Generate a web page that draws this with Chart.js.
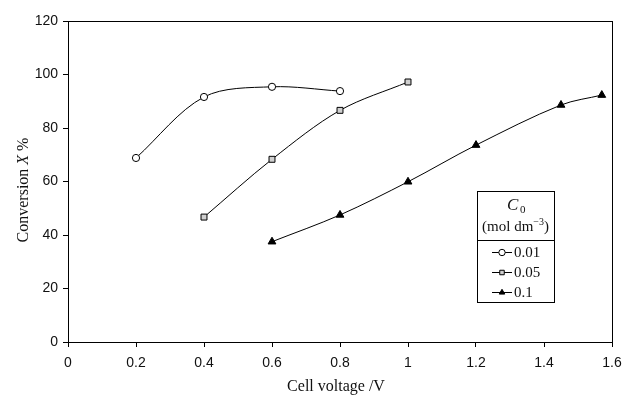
<!DOCTYPE html>
<html>
<head>
<meta charset="utf-8">
<script src="https://cdn.jsdelivr.net/npm/chart.js@4"></script>
<style>
  body { margin: 0; background: #fff; }
  #wrap { width: 625px; height: 396px; }
</style>
</head>
<body>
<div id="wrap"><canvas id="chart" width="625" height="396"></canvas></div>
<script>
// data
var volt01 = [0.2, 0.4, 0.6, 0.8];
var conv01 = [68.8, 91.6, 95.4, 93.8];
var volt05 = [0.4, 0.6, 0.8, 1.0];
var conv05 = [46.7, 68.3, 86.6, 97.2];
var volt1 = [0.6, 0.8, 1.0, 1.2, 1.45, 1.57];
var conv1 = [37.5, 47.5, 59.9, 73.6, 88.6, 92.3];
var seriesLabels = ['0.01', '0.05', '0.1'];
var xTicks = [0, 0.2, 0.4, 0.6, 0.8, 1, 1.2, 1.4, 1.6];
var yTicks = [0, 20, 40, 60, 80, 100, 120];

function pts(xs, ys) {
    return xs.map(function (x, i) { return { x: x, y: ys[i] }; });
}

var serif = '"Liberation Serif", "Times New Roman", serif';

// frame, axis titles and the C0 legend box
var extras = {
    id: 'extras',
    afterDraw: function (chart) {
        var c = chart.ctx, a = chart.chartArea;
        c.save();
        c.strokeStyle = '#000';
        c.lineWidth = 1;
        c.strokeRect(Math.round(a.left) + 0.5, Math.round(a.top) + 0.5, Math.round(a.right - a.left), Math.round(a.bottom - a.top));

        c.fillStyle = '#111';
        c.textBaseline = 'middle';
        // x title
        c.font = '16px ' + serif;
        c.textAlign = 'center';
        c.fillText('Cell voltage /V', 336, 387);

        // y title with italic X
        c.translate(24, 190);
        c.rotate(-Math.PI / 2);
        var p1 = 'Conversion ', p2 = 'X', p3 = ' %';
        c.font = '16px ' + serif;
        var w1 = c.measureText(p1).width, w3 = c.measureText(p3).width;
        c.font = 'italic 16px ' + serif;
        var w2 = c.measureText(p2).width;
        var sx = -(w1 + w2 + w3) / 2;
        c.textAlign = 'left';
        c.font = '16px ' + serif;
        c.fillText(p1, sx, 0);
        c.font = 'italic 16px ' + serif;
        c.fillText(p2, sx + w1, 0);
        c.font = '16px ' + serif;
        c.fillText(p3, sx + w1 + w2, 0);
        c.setTransform(1, 0, 0, 1, 0, 0);

        // legend box
        var L = 477, T = 191, R = 554, B = 302, D = 240;
        c.strokeStyle = '#000';
        c.fillStyle = '#fff';
        c.fillRect(L, T, R - L, B - T);
        c.strokeRect(L + 0.5, T + 0.5, R - L, B - T);
        c.beginPath();
        c.moveTo(L, D + 0.5);
        c.lineTo(R + 1, D + 0.5);
        c.stroke();

        c.fillStyle = '#111';
        c.textAlign = 'left';
        c.font = 'italic 17px ' + serif;
        c.fillText('C', 507, 206);
        c.font = '11px ' + serif;
        c.fillText('0', 520, 210);

        c.font = '15px ' + serif;
        var m1 = '(mol dm', m2 = '\u22123', m3 = ')';
        var mw1 = c.measureText(m1).width;
        c.font = '10px ' + serif;
        var mw2 = c.measureText(m2).width;
        c.font = '15px ' + serif;
        var mw3 = c.measureText(m3).width;
        var mx = (L + R) / 2 - (mw1 + mw2 + mw3) / 2;
        c.fillText(m1, mx, 227);
        c.font = '10px ' + serif;
        c.fillText(m2, mx + mw1, 222);
        c.font = '15px ' + serif;
        c.fillText(m3, mx + mw1 + mw2, 227);

        var rows = [252, 272, 292];
        chart.data.datasets.forEach(function (ds, i) {
            var y = rows[i];
            c.strokeStyle = '#000';
            c.lineWidth = 1;
            c.beginPath();
            c.moveTo(492, y + 0.5);
            c.lineTo(512, y + 0.5);
            c.stroke();
            c.fillStyle = ds.pointBackgroundColor;
            c.strokeStyle = '#000';
            Chart.helpers.drawPoint(c, {
                pointStyle: ds.pointStyle,
                radius: 3.2,
                borderWidth: 1
            }, 502, y + 0.5);
            c.fillStyle = '#111';
            c.font = '15px ' + serif;
            c.fillText(ds.label, 514, y + 1);
        });
        c.restore();
    }
};

var lineStyle = {
    showLine: true,
    borderColor: '#000',
    borderWidth: 1,
    tension: 0.33,
    pointBorderColor: '#000',
    pointBorderWidth: 1
};

var ctx = document.getElementById('chart').getContext('2d');
var myChart = new Chart(ctx, {
    type: 'scatter',
    data: {
        datasets: [
            Object.assign({}, lineStyle, {
                label: seriesLabels[0],
                data: pts(volt01, conv01),
                pointStyle: 'circle',
                pointRadius: 3.6,
                pointBackgroundColor: '#fff'
            }),
            Object.assign({}, lineStyle, {
                label: seriesLabels[1],
                data: pts(volt05, conv05),
                pointStyle: 'rect',
                pointRadius: 4.2,
                pointBackgroundColor: '#cfcfcf'
            }),
            Object.assign({}, lineStyle, {
                label: seriesLabels[2],
                data: pts(volt1, conv1),
                pointStyle: 'triangle',
                pointRadius: 4.5,
                pointBackgroundColor: '#000'
            })
        ]
    },
    options: {
        responsive: false,
        animation: false,
        layout: { padding: { left: 0, top: 21, right: 13, bottom: 0 } },
        plugins: {
            legend: { display: false },
            tooltip: { enabled: false }
        },
        scales: {
            x: {
                type: 'linear',
                min: 0,
                max: 1.6,
                afterFit: function (s) { s.height = 54; s.paddingLeft = 0; s.paddingRight = 0; },
                afterBuildTicks: function (s) { s.ticks = xTicks.map(function (v) { return { value: v }; }); },
                ticks: {
                    color: '#111',
                    font: { family: '"Liberation Sans", Arial, sans-serif', size: 14 },
                    padding: 8,
                    maxRotation: 0,
                    callback: function (v) { return String(+v.toFixed(1)); }
                },
                grid: { drawOnChartArea: false, tickLength: 5, color: '#000' },
                border: { color: '#000', width: 1 }
            },
            y: {
                min: 0,
                max: 120,
                afterFit: function (s) { s.width = 68; s.paddingTop = 0; s.paddingBottom = 0; },
                afterBuildTicks: function (s) { s.ticks = yTicks.map(function (v) { return { value: v }; }); },
                ticks: {
                    color: '#111',
                    font: { family: '"Liberation Sans", Arial, sans-serif', size: 14 },
                    padding: 5
                },
                grid: { drawOnChartArea: false, tickLength: 5, color: '#000' },
                border: { color: '#000', width: 1 }
            }
        }
    },
    plugins: [extras]
});
</script>
</body>
</html>
